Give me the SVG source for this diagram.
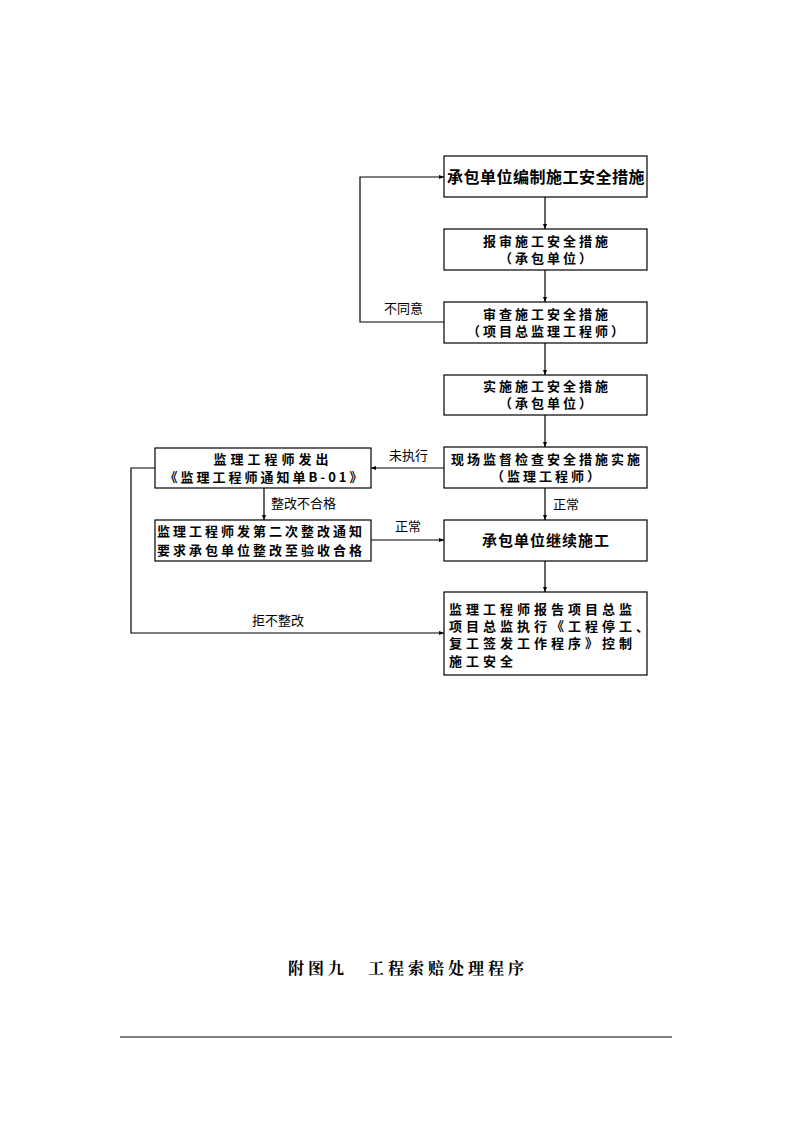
<svg xmlns="http://www.w3.org/2000/svg" width="794" height="1123" viewBox="0 0 794 1123">
<defs>
<marker id="ah" viewBox="0 0 10 10" refX="10" refY="5" markerWidth="5" markerHeight="5" orient="auto" markerUnits="userSpaceOnUse">
<path d="M0,1 L10,5 L0,9 z" fill="#000"/>
</marker>
<style>
.box{fill:#fff;stroke:#000;stroke-width:1.2}
.t{font-family:"Noto Sans CJK SC","Noto Sans CJK JP",sans-serif;font-weight:bold;font-size:13px;letter-spacing:3px;fill:#000}
.tc{text-anchor:middle}
.big{font-size:16px;letter-spacing:0.5px}
.w4{letter-spacing:4px}
.lbl{font-family:"Noto Sans CJK SC",sans-serif;font-size:13px;fill:#000}
.c{fill:none;stroke:#000;stroke-width:1.2}
.cap{font-family:"Noto Serif CJK SC","Noto Sans CJK SC",serif;font-weight:bold;font-size:16px;fill:#000;letter-spacing:4px}
</style>
</defs>
<rect width="794" height="1123" fill="#fff"/>
<g id="n1"><rect class="box" x="444" y="156" width="203" height="41"/><text class="t tc big" x="546" y="183">承包单位编制施工安全措施</text></g>
<g id="n2"><rect class="box" x="444" y="229" width="203" height="41"/><text class="t tc" x="547" y="246">报审施工安全措施</text><text class="t tc" x="547" y="263">（承包单位）</text></g>
<g id="n3"><rect class="box" x="444" y="302" width="203" height="41"/><text class="t tc" x="547" y="319">审查施工安全措施</text><text class="t tc" x="547" y="336">（项目总监理工程师）</text></g>
<g id="n4"><rect class="box" x="444" y="375" width="203" height="40"/><text class="t tc" x="547" y="391">实施施工安全措施</text><text class="t tc" x="547" y="408">（承包单位）</text></g>
<g id="n5"><rect class="box" x="444" y="447" width="203" height="41"/><text class="t tc" x="547" y="464">现场监督检查安全措施实施</text><text class="t tc" x="547" y="481">（监理工程师）</text></g>
<g id="n6"><rect class="box" x="444" y="520" width="203" height="41"/><text class="t tc" x="546" y="546" style="font-size:15px;letter-spacing:1px">承包单位继续施工</text></g>
<g id="n7"><rect class="box" x="444" y="592" width="203" height="83"/>
<text class="t w4" x="449" y="614">监理工程师报告项目总监</text>
<text class="t w4" x="449" y="631">项目总监执行《工程停工、</text>
<text class="t w4" x="449" y="648">复工签发工作程序》控制</text>
<text class="t w4" x="449" y="666">施工安全</text></g>
<g id="nA"><rect class="box" x="155" y="448" width="216" height="40"/><text class="t tc w4" x="273" y="464">监理工程师发出</text><text class="t tc" x="265" y="482">《监理工程师通知单B-01》</text></g>
<g id="nB"><rect class="box" x="155" y="520" width="216" height="41"/><text class="t" x="157" y="536">监理工程师发第二次整改通知</text><text class="t" x="157" y="555">要求承包单位整改至验收合格</text></g>
<g id="connectors">
<line class="c" x1="545" y1="197" x2="545" y2="229" marker-end="url(#ah)"/>
<line class="c" x1="545" y1="270" x2="545" y2="302" marker-end="url(#ah)"/>
<line class="c" x1="545" y1="343" x2="545" y2="375" marker-end="url(#ah)"/>
<line class="c" x1="545" y1="415" x2="545" y2="447" marker-end="url(#ah)"/>
<line class="c" x1="545" y1="488" x2="545" y2="520" marker-end="url(#ah)"/>
<line class="c" x1="545" y1="561" x2="545" y2="592" marker-end="url(#ah)"/>
<polyline class="c" points="444,322 360,322 360,177 444,177" marker-end="url(#ah)"/>
<line class="c" x1="444" y1="468" x2="371" y2="468" marker-end="url(#ah)"/>
<line class="c" x1="264" y1="488" x2="264" y2="520" marker-end="url(#ah)"/>
<line class="c" x1="371" y1="540" x2="444" y2="540" marker-end="url(#ah)"/>
<polyline class="c" points="155,468 131,468 131,633 444,633" marker-end="url(#ah)"/>
<text class="lbl" x="384" y="313">不同意</text>
<text class="lbl" x="389" y="460">未执行</text>
<text class="lbl" x="271" y="508">整改不合格</text>
<text class="lbl" x="395" y="531">正常</text>
<text class="lbl" x="553" y="509">正常</text>
<text class="lbl" x="252" y="625">拒不整改</text>
</g>
<text class="cap" x="288" y="974">附图九　工程索赔处理程序</text>
<line x1="120" y1="1037" x2="672" y2="1037" stroke="#000" stroke-width="1.2"/>
</svg>
